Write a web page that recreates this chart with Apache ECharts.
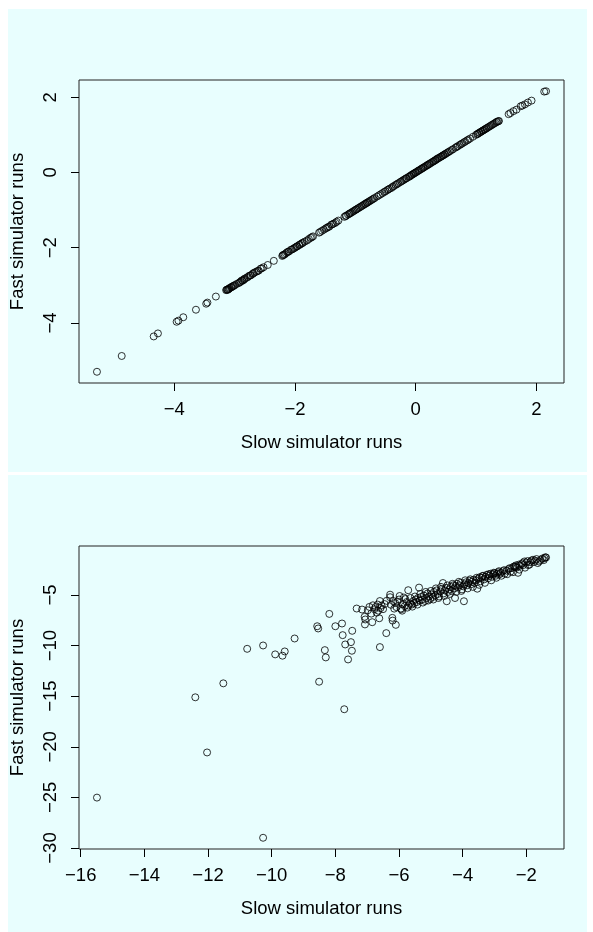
<!DOCTYPE html>
<html>
<head>
<meta charset="utf-8">
<script src="https://cdn.jsdelivr.net/npm/echarts@6/dist/echarts.min.js"></script>
<style>
html,body{margin:0;padding:0;background:#fff;}
#chart{width:593px;height:932px;}
</style>
</head>
<body>
<div id="chart"></div>
<script>
// ---- Top panel data ----
const slowTop = [-5.28,-4.87,-4.34,-4.27,-3.96,-3.93,-3.85,-3.64,-3.47,-3.45,-3.31,
 -3.14,-3.12,-3.10,-3.08,-3.06,-3.04,-3.01,
 -2.93,-2.90,-2.88,-2.85,-2.83,-2.80,-2.76,-2.73,-2.70,-2.67,-2.64,-2.60,-2.57,-2.52,-2.45,-2.35,
 -2.21,-2.19,-2.17,-2.13,-2.10,-2.07,-2.03,-1.99,-1.96,-1.93,-1.90,-1.87,
 -1.80,-1.74,-1.70,-1.60,-1.55,-1.52,-1.47,-1.43,-1.40,-1.36,-1.31,
 -1.18,-1.15,-1.12,-1.09,-1.05,-1.01,-0.98,-0.94,-0.90,-0.86,-0.83,-0.80,-0.76,-0.72,-0.68,
 -0.58,-0.55,-0.50,-0.45,-0.40,-0.36,-0.33,-0.29,-0.26,-0.22,-0.18,-0.15,-0.12,-0.09,-0.06,-0.03,0.00,
 0.04,0.07,0.10,0.13,0.17,0.20,0.23,0.27,0.30,0.33,0.36,0.40,0.43,0.46,0.49,0.53,0.57,0.62,0.66,0.70,0.73,0.77,0.82,0.87,
 0.95,1.00,1.03,1.06,1.09,1.12,1.15,1.18,1.22,1.26,1.30,1.34,1.37,
 1.54,1.57,1.62,1.67,1.74,1.77,1.81,1.86,1.92,2.13,2.16,
 -3.13,-3.11,-3.09,-3.05,-3.02,-2.99,-2.96,-2.91,-2.87,-2.84,-2.78,-2.74,-2.69,-2.62,-2.55,
 -2.20,-2.15,-2.11,-2.05,-2.01,-1.97,-1.92,-1.88,-1.84,
 -1.77,-1.72,-1.58,-1.49,-1.45,-1.38,-1.33,-1.28,
 -1.16,-1.10,-1.07,-1.03,-0.99,-0.96,-0.92,-0.88,-0.84,-0.81,-0.78,-0.74,-0.70,-0.64,-0.61,
 -0.52,-0.47,-0.43,-0.38,-0.31,-0.24,-0.20,-0.16,-0.10,-0.07,-0.04,-0.01,0.02,0.05,0.09,0.12,0.15,0.19,0.22,0.25,0.29,0.32,0.35,0.38,0.42,0.45,0.48,0.51,0.55,0.60,0.68,0.75,0.80,0.85,0.90,
 1.02,1.05,1.08,1.11,1.14,1.17,1.20,1.24,1.28,1.32,1.35,1.38];
const fastTop = [-5.30,-4.88,-4.36,-4.28,-3.97,-3.94,-3.85,-3.65,-3.49,-3.46,-3.30,
 -3.13,-3.11,-3.10,-3.07,-3.06,-3.03,-3.01,
 -2.94,-2.90,-2.87,-2.86,-2.82,-2.80,-2.75,-2.73,-2.70,-2.66,-2.64,-2.61,-2.56,-2.52,-2.46,-2.35,
 -2.22,-2.19,-2.18,-2.12,-2.10,-2.06,-2.03,-1.99,-1.96,-1.93,-1.90,-1.87,
 -1.81,-1.74,-1.70,-1.60,-1.55,-1.52,-1.47,-1.44,-1.39,-1.36,-1.31,
 -1.18,-1.15,-1.12,-1.09,-1.05,-1.01,-0.98,-0.94,-0.90,-0.86,-0.83,-0.80,-0.76,-0.72,-0.68,
 -0.58,-0.55,-0.50,-0.45,-0.41,-0.36,-0.33,-0.29,-0.26,-0.22,-0.18,-0.15,-0.12,-0.09,-0.06,-0.03,0.00,
 0.04,0.07,0.10,0.13,0.17,0.20,0.23,0.27,0.30,0.33,0.37,0.40,0.43,0.46,0.49,0.53,0.57,0.62,0.66,0.70,0.73,0.77,0.82,0.87,
 0.95,1.00,1.03,1.06,1.09,1.12,1.15,1.18,1.22,1.26,1.30,1.34,1.36,
 1.55,1.58,1.63,1.67,1.76,1.78,1.81,1.86,1.91,2.15,2.16,
 -3.12,-3.12,-3.09,-3.05,-3.02,-2.99,-2.96,-2.92,-2.88,-2.84,-2.78,-2.74,-2.68,-2.62,-2.55,
 -2.20,-2.15,-2.11,-2.05,-2.01,-1.97,-1.92,-1.88,-1.84,
 -1.77,-1.72,-1.58,-1.49,-1.45,-1.38,-1.34,-1.28,
 -1.16,-1.10,-1.07,-1.03,-0.99,-0.96,-0.92,-0.88,-0.84,-0.81,-0.78,-0.74,-0.70,-0.64,-0.61,
 -0.52,-0.47,-0.43,-0.38,-0.31,-0.24,-0.20,-0.16,-0.11,-0.07,-0.04,-0.01,0.02,0.05,0.09,0.12,0.15,0.19,0.22,0.25,0.29,0.32,0.35,0.38,0.42,0.45,0.48,0.51,0.55,0.60,0.68,0.75,0.80,0.85,0.90,
 1.02,1.05,1.08,1.11,1.14,1.17,1.20,1.24,1.28,1.32,1.35,1.37];
const xTicksTop = [-4,-2,0,2];
const yTicksTop = [-4,-2,0,2];

// ---- Bottom panel data ----
const slowBottom = [-15.49,-10.27,-12.03,-12.40,-11.52,-10.77,-10.27,-9.89,-9.66,-9.59,-9.28,
 -8.57,-8.54,-8.19,-8.33,-8.30,-8.51,-8.00,-7.79,-7.77,-7.69,-7.51,-7.47,-7.48,-7.60,-7.72,-6.60,-6.40,
 -7.33,-7.16,-7.08,-7.06,-7.07,-6.98,-6.93,-6.87,-6.82,-6.84,-6.77,-6.74,-6.70,-6.67,-6.65,-6.62,-6.60,-6.58,-6.55,-6.50,-6.45,-6.39,-6.28,-6.25,-6.21,-6.20,-6.10,-6.15,-6.12,-6.05,-6.00,-5.92,-5.85,-5.71,
 -5.95,-5.88,-5.82,-5.76,-5.70,-5.66,-5.60,-5.55,-5.52,-5.48,-5.44,-5.40,-5.37,-5.35,-5.31,-5.27,-5.22,-5.18,-5.14,-5.10,-5.06,-5.02,
 -4.98,-4.94,-4.90,-4.86,-4.82,-4.78,-4.74,-4.70,-4.66,-4.62,-4.60,-4.56,-4.52,-4.50,-4.46,-4.42,-4.38,-4.34,-4.30,-4.26,-4.24,-4.22,-4.18,-4.14,-4.10,-4.06,-4.02,
 -3.98,-3.96,-3.94,-3.90,-3.86,-3.82,-3.78,-3.74,-3.70,-3.66,-3.62,-3.58,-3.54,-3.50,-3.47,-3.44,-3.40,-3.36,-3.32,-3.28,-3.24,-3.20,-3.16,-3.12,-3.08,-3.04,
 -3.00,-2.96,-2.92,-2.88,-2.84,-2.80,-2.74,-2.68,-2.62,-2.56,-2.50,-2.45,-2.40,-2.36,-2.33,-2.30,-2.26,-2.24,-2.20,-2.15,-2.10,-2.06,-2.00,
 -1.94,-1.88,-1.79,-1.72,-1.64,-1.55,-1.43,-1.40,-1.38,
 -6.28,-6.18,-6.08,-5.98,-5.90,-5.80,-5.74,-5.64,-5.58,-5.50,-5.42,-5.33,-5.25,-5.16,-5.08,-5.00,-4.92,-4.84,-4.76,-4.68,-4.58,-4.48,-4.40,-4.32,-4.20,-4.12,-4.04,
 -3.92,-3.84,-3.76,-3.68,-3.56,-3.48,-3.38,-3.30,-3.18,-3.10,-3.02,-2.94,-2.86,-2.78,-2.70,-2.60,-2.52,-2.42,-2.34,-2.22,-2.12,-2.04,-1.96,-1.90,-1.84,-1.76,-1.68,-1.60,-1.50,-1.45];
const fastBottom = [-25.02,-28.99,-20.56,-15.11,-13.73,-10.32,-9.99,-10.87,-11.00,-10.58,-9.30,
 -8.09,-8.31,-6.87,-10.45,-11.17,-13.57,-8.09,-7.82,-8.97,-9.89,-9.66,-8.54,-10.51,-11.37,-16.29,-10.15,-8.77,
 -6.34,-6.44,-7.16,-7.42,-7.91,-6.51,-6.18,-6.84,-6.02,-7.69,-6.40,-6.20,-6.75,-5.95,-6.55,-7.30,-5.60,-6.30,-6.05,-6.40,-5.90,-5.58,-5.22,-5.97,-7.26,-7.53,-7.95,-6.35,-5.80,-5.65,-5.45,-6.40,-5.25,-4.53,
 -6.35,-5.90,-6.10,-5.70,-6.05,-5.85,-5.95,-5.60,-5.80,-5.45,-5.70,-5.30,-4.27,-5.55,-5.20,-5.45,-5.05,-5.60,-5.30,-4.85,-5.15,-5.40,
 -4.95,-5.20,-4.70,-5.05,-4.55,-4.90,-5.15,-4.65,-4.40,-3.82,-4.85,-4.55,-4.30,-5.62,-4.70,-4.45,-4.20,-4.60,-4.05,-4.35,-5.30,-4.10,-3.90,-4.25,-4.05,-3.80,-4.45,
 -4.15,-5.62,-3.95,-3.75,-4.05,-3.85,-3.60,-3.95,-3.70,-3.50,-3.80,-3.55,-4.38,-3.40,-3.25,-3.65,-3.30,-3.10,-3.45,-3.20,-3.00,-3.35,-3.10,-2.90,-3.20,-2.95,
 -2.85,-3.10,-2.90,-2.75,-2.95,-2.80,-2.65,-2.90,-2.60,-2.45,-2.70,-2.35,-2.20,-2.18,-2.08,-2.30,-2.81,-2.00,-2.10,-1.95,-2.05,-1.69,-1.80,
 -2.05,-1.75,-1.52,-1.60,-1.85,-1.55,-1.36,-1.27,-1.30,
 -4.97,-5.60,-6.20,-5.10,-6.55,-5.40,-6.25,-5.30,-6.15,-5.15,-5.95,-4.90,-5.75,-4.70,-5.55,-4.60,-5.45,-4.35,-5.30,-4.20,-5.10,-4.05,-4.90,-3.90,-4.70,-3.70,-4.60,
 -3.55,-4.35,-3.45,-4.20,-3.30,-4.00,-3.15,-3.80,-2.95,-3.55,-2.80,-3.30,-2.65,-3.10,-2.55,-2.95,-2.35,-2.75,-2.25,-2.50,-1.85,-2.30,-1.65,-2.00,-1.60,-1.75,-1.45,-1.70,-1.40,-1.55];
const xTicksBottom = [-16,-14,-12,-10,-8,-6,-4,-2];
const yTicksBottom = [-30,-25,-20,-15,-10,-5];

const xTitle = 'Slow simulator runs';
const yTitle = 'Fast simulator runs';

function zip(a,b){return a.map((v,i)=>[v,b[i]]);}
function ext(arr){const mn=Math.min(...arr),mx=Math.max(...arr),d=(mx-mn)*0.04;return [mn-d,mx+d];}
const fmt = v => v<0 ? '\u2212'+Math.abs(v) : String(v);
const FONT = "'Liberation Sans', Arial, Helvetica, sans-serif";
const FS = 18.5;

function xAx(gi, arr, ticks){
  const r=ext(arr);
  return {gridIndex:gi,type:'value',min:r[0],max:r[1],name:xTitle,nameLocation:'middle',nameGap:50,
    nameTextStyle:{fontFamily:FONT,fontSize:FS,color:'#000'},
    axisLine:{show:false,onZero:false},splitLine:{show:false},
    axisTick:{show:true,length:8,customValues:ticks,lineStyle:{color:'#000',width:1}},
    axisLabel:{customValues:ticks,formatter:fmt,fontFamily:FONT,fontSize:FS,color:'#000',margin:17}};
}
function yAx(gi, arr, ticks){
  const r=ext(arr);
  return {gridIndex:gi,type:'value',min:r[0],max:r[1],name:yTitle,nameLocation:'middle',nameGap:52,nameRotate:90,
    nameTextStyle:{fontFamily:FONT,fontSize:FS,color:'#000'},
    axisLine:{show:false,onZero:false},splitLine:{show:false},
    axisTick:{show:true,length:8,customValues:ticks,lineStyle:{color:'#000',width:1}},
    axisLabel:{customValues:ticks,formatter:fmt,rotate:90,fontFamily:FONT,fontSize:FS,color:'#000',margin:19}};
}
const itemStyle={color:'rgba(0,0,0,0)',borderColor:'#000',borderWidth:1};

const chart = echarts.init(document.getElementById('chart'),null,{renderer:'canvas'});
chart.setOption({
  animation:false,
  backgroundColor:'#fff',
  graphic:[
    {type:'rect',z:-10,shape:{x:8,y:9,width:579,height:463},style:{fill:'#E8FEFE'},silent:true},
    {type:'rect',z:-10,shape:{x:8,y:475,width:579,height:457},style:{fill:'#E8FEFE'},silent:true}
  ],
  grid:[
    {left:79,top:80,width:485,height:303,show:true,borderColor:'#222',borderWidth:1,backgroundColor:'rgba(0,0,0,0)'},
    {left:79,top:546,width:485,height:303,show:true,borderColor:'#222',borderWidth:1,backgroundColor:'rgba(0,0,0,0)'}
  ],
  xAxis:[xAx(0,slowTop,xTicksTop),xAx(1,slowBottom,xTicksBottom)],
  yAxis:[yAx(0,fastTop,yTicksTop),yAx(1,fastBottom,yTicksBottom)],
  series:[
    {type:'scatter',xAxisIndex:0,yAxisIndex:0,data:zip(slowTop,fastTop),symbol:'circle',symbolSize:7,itemStyle:itemStyle},
    {type:'scatter',xAxisIndex:1,yAxisIndex:1,data:zip(slowBottom,fastBottom),symbol:'circle',symbolSize:7,itemStyle:itemStyle}
  ]
});
</script>
</body>
</html>
